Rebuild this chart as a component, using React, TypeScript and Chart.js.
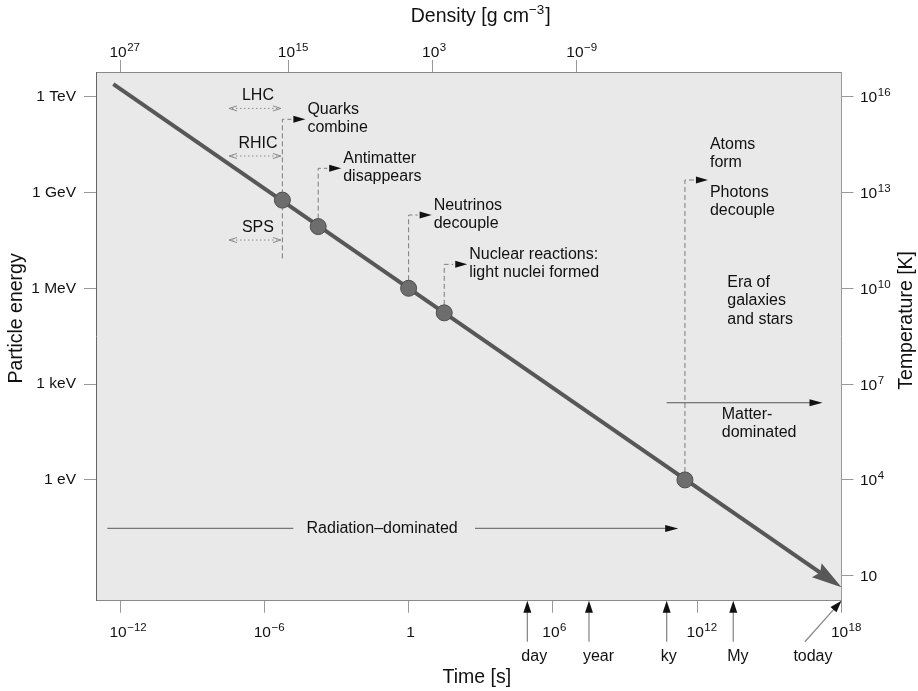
import React, { useEffect, useRef } from 'react';
import { Chart, registerables } from 'chart.js';

Chart.register(...registerables);

const FONT = '"Liberation Sans", Arial, Helvetica, sans-serif';

// ---- axis ranges ----
const timeMin = 1e-13;
const timeMax = 1e18;
const energyMin = 10 ** -3.78; // eV
const energyMax = 10 ** 12.77; // eV
const kelvinPerEV = 1e4;

// ---- tick values / labels ----
const timeTicks = [1e-12, 1e-6, 1, 1e6, 1e12, 1e18];
const timeTickExponents = [-12, -6, 0, 6, 12, 18];
const densityTickTimes = [1e-12, 1e-5, 10, 1e7];
const densityTickExponents = [27, 15, 3, -9];
const energyTicks = [1e12, 1e9, 1e6, 1e3, 1];
const energyTickLabels = ['1 TeV', '1 GeV', '1 MeV', '1 keV', '1 eV'];
const temperatureTicks = [1e16, 1e13, 1e10, 1e7, 1e4, 10];
const temperatureTickExponents = [16, 13, 10, 7, 4, 1];

// ---- cooling line (energy vs time) ----
const coolingTimes = [10 ** -12.28, 1e18];
const coolingEnergies = [10 ** 12.39, 10 ** -3.36];

// ---- events on the line ----
const eventLabels = [
  ['Quarks', 'combine'],
  ['Antimatter', 'disappears'],
  ['Neutrinos', 'decouple'],
  ['Nuclear reactions:', 'light nuclei formed'],
  ['Photons', 'decouple'],
];
const eventTimes = [10 ** -5.25, 10 ** -3.76, 1, 10 ** 1.48, 10 ** 11.49];
const eventEnergies = [10 ** 8.76, 10 ** 7.93, 1e6, 10 ** 5.23, 1];
const eventConnectorTops = [10 ** 11.29, 10 ** 9.755, 10 ** 8.293, 10 ** 6.749, 10 ** 9.389];
const eventConnectorBottoms = [10 ** 6.937, 10 ** 7.93, 1e6, 10 ** 5.23, 1];
const atomsLabel = ['Atoms', 'form'];

// ---- accelerators ----
const acceleratorNames = ['LHC', 'RHIC', 'SPS'];
const acceleratorEnergies = [10 ** 11.63, 10 ** 10.14, 10 ** 7.51];
const acceleratorSpan = [10 ** -7.47, 10 ** -5.31];

// ---- eras ----
const radiationLabel = 'Radiation–dominated';
const radiationSpan = [10 ** -12.53, 10 ** 11.21];
const radiationGap = [10 ** -4.796, 10 ** 2.759];
const radiationEnergy = 10 ** -1.516;
const matterLabel = ['Matter-', 'dominated'];
const matterSpan = [10 ** 10.73, 10 ** 17.21];
const matterEnergy = 10 ** 2.416;
const matterTextTime = 10 ** 13.02;
const galaxiesLabel = ['Era of', 'galaxies', 'and stars'];
const galaxiesTime = 10 ** 13.25;
const galaxiesEnergy = 10 ** 6.173;

// ---- epochs below the time axis ----
const epochLabels = ['day', 'year', 'ky', 'My'];
const epochTimes = [86400, 3.156e7, 10 ** 10.73, 3.156e13];
const todayLabel = 'today';
const todayFromTime = 10 ** 16.48;
const todayTime = 1e18;

function arrowHead(
  ctx: CanvasRenderingContext2D,
  tipX: number,
  tipY: number,
  ux: number,
  uy: number,
  len: number,
  half: number,
  color: string,
  notch = 0
) {
  const nx = -uy;
  const ny = ux;
  const bx = tipX - ux * len;
  const by = tipY - uy * len;
  ctx.beginPath();
  ctx.moveTo(tipX, tipY);
  ctx.lineTo(bx + nx * half, by + ny * half);
  ctx.lineTo(tipX - ux * (len - notch), tipY - uy * (len - notch));
  ctx.lineTo(bx - nx * half, by - ny * half);
  ctx.closePath();
  ctx.fillStyle = color;
  ctx.fill();
}

const MAIN_TICK = `15.5px ${FONT}`;
const SUP_TICK = `11.5px ${FONT}`;

// draws "10^exp" (or "1"/"10") with the base "10" left edge at x
function drawPower(ctx: CanvasRenderingContext2D, exp: number, x: number, baseline: number, mode: 'center' | 'left') {
  ctx.textAlign = 'left';
  ctx.textBaseline = 'alphabetic';
  ctx.font = MAIN_TICK;
  if (exp === 0) {
    const w = ctx.measureText('1').width;
    ctx.fillText('1', mode === 'center' ? x - w / 2 + 2 : x, baseline);
    return;
  }
  const wBase = ctx.measureText('10').width;
  const left = mode === 'center' ? x - wBase / 2 - 2 : x;
  ctx.fillText('10', left, baseline);
  if (exp === 1) return;
  ctx.font = SUP_TICK;
  const s = exp < 0 ? '−' + String(-exp) : String(exp);
  ctx.fillText(s, left + wBase + 0.5, baseline - 6);
}

function coolingGeometry(chart: any) {
  const xs = chart.scales.x;
  const ys = chart.scales.y;
  const sx = xs.getPixelForValue(coolingTimes[0]);
  const sy = ys.getPixelForValue(coolingEnergies[0]);
  const px = xs.getPixelForValue(coolingTimes[1]);
  const py = ys.getPixelForValue(coolingEnergies[1]);
  const d = Math.hypot(px - sx, py - sy);
  return { px, py, ux: (px - sx) / d, uy: (py - sy) / d };
}

const overlay = {
  id: 'overlay',
  beforeDraw(chart: any) {
    const { ctx, chartArea: a } = chart;
    ctx.save();
    ctx.fillStyle = '#e9e9e9';
    ctx.fillRect(a.left, a.top, a.right - a.left, a.bottom - a.top);
    ctx.restore();
  },
  beforeDatasetsDraw(chart: any) {
    const { ctx } = chart;
    const xs = chart.scales.x;
    const ys = chart.scales.y;
    const X = (t: number) => xs.getPixelForValue(t);
    const Y = (e: number) => ys.getPixelForValue(e);
    ctx.save();
    // event connectors
    for (let i = 0; i < eventTimes.length; i++) {
      const x = X(eventTimes[i]);
      const yTop = Y(eventConnectorTops[i]);
      const yBot = Y(eventConnectorBottoms[i]);
      ctx.setLineDash([5, 3]);
      ctx.strokeStyle = '#7c7c7c';
      ctx.lineWidth = 1;
      ctx.beginPath();
      ctx.moveTo(x, yBot);
      ctx.lineTo(x, yTop);
      ctx.lineTo(x + 9, yTop);
      ctx.stroke();
      ctx.setLineDash([]);
      arrowHead(ctx, x + 23, yTop, 1, 0, 12, 3.5, '#111');
    }
    // accelerators
    const ax1 = X(acceleratorSpan[0]);
    const ax2 = X(acceleratorSpan[1]);
    for (let i = 0; i < acceleratorNames.length; i++) {
      const y = Y(acceleratorEnergies[i]);
      ctx.strokeStyle = '#8a8a8a';
      ctx.lineWidth = 1;
      ctx.setLineDash([1.5, 2.5]);
      ctx.beginPath();
      ctx.moveTo(ax1 + 3, y);
      ctx.lineTo(ax2 - 3, y);
      ctx.stroke();
      ctx.setLineDash([]);
      ctx.beginPath();
      ctx.moveTo(ax1 + 8, y - 2.5);
      ctx.lineTo(ax1, y);
      ctx.lineTo(ax1 + 8, y + 2.5);
      ctx.moveTo(ax2 - 8, y - 2.5);
      ctx.lineTo(ax2, y);
      ctx.lineTo(ax2 - 8, y + 2.5);
      ctx.stroke();
    }
    // radiation-dominated
    {
      const y = Y(radiationEnergy);
      ctx.strokeStyle = '#777';
      ctx.lineWidth = 1.2;
      ctx.beginPath();
      ctx.moveTo(X(radiationSpan[0]), y);
      ctx.lineTo(X(radiationGap[0]), y);
      ctx.moveTo(X(radiationGap[1]), y);
      ctx.lineTo(X(radiationSpan[1]) - 8, y);
      ctx.stroke();
      arrowHead(ctx, X(radiationSpan[1]), y, 1, 0, 13, 3.5, '#111');
    }
    // matter-dominated
    {
      const y = Y(matterEnergy);
      ctx.strokeStyle = '#555';
      ctx.lineWidth = 1.2;
      ctx.beginPath();
      ctx.moveTo(X(matterSpan[0]), y);
      ctx.lineTo(X(matterSpan[1]) - 8, y);
      ctx.stroke();
      arrowHead(ctx, X(matterSpan[1]), y, 1, 0, 13, 3.5, '#111');
    }
    ctx.restore();
  },
  beforeDatasetDraw(chart: any, args: any) {
    if (args.index !== 1) return;
    const { ctx } = chart;
    const g = coolingGeometry(chart);
    const nx = -g.uy;
    const ny = g.ux;
    const bx = g.px - g.ux * 25;
    const by = g.py - g.uy * 25;
    const R = 3000;
    ctx.save();
    ctx.beginPath();
    ctx.moveTo(bx + nx * R, by + ny * R);
    ctx.lineTo(bx + nx * R - g.ux * R, by + ny * R - g.uy * R);
    ctx.lineTo(bx - nx * R - g.ux * R, by - ny * R - g.uy * R);
    ctx.lineTo(bx - nx * R, by - ny * R);
    ctx.closePath();
    ctx.clip();
  },
  afterDatasetDraw(chart: any, args: any) {
    if (args.index !== 1) return;
    const { ctx } = chart;
    ctx.restore();
    const g = coolingGeometry(chart);
    ctx.save();
    arrowHead(ctx, g.px, g.py, g.ux, g.uy, 30, 8.5, '#575757', 4);
    ctx.restore();
  },
  afterDraw(chart: any) {
    const { ctx, chartArea: a } = chart;
    const xs = chart.scales.x;
    const ys = chart.scales.y;
    const X = (t: number) => xs.getPixelForValue(t);
    const Y = (e: number) => ys.getPixelForValue(e);
    ctx.save();
    ctx.fillStyle = '#111';

    // power-of-ten tick labels on the time, density and temperature axes
    xs.ticks.forEach((tk: any, i: number) => {
      drawPower(ctx, timeTickExponents[i], xs.getPixelForValue(tk.value), a.bottom + 36, 'center');
    });
    const x2 = chart.scales.x2;
    x2.ticks.forEach((tk: any, i: number) => {
      drawPower(ctx, densityTickExponents[i], x2.getPixelForValue(tk.value), a.top - 15.3, 'center');
    });
    const y1 = chart.scales.y1;
    y1.ticks.forEach((tk: any, i: number) => {
      drawPower(ctx, temperatureTickExponents[i], a.right + 18.5, y1.getPixelForValue(tk.value) + 5.5, 'left');
    });

    ctx.textBaseline = 'middle';
    ctx.textAlign = 'left';
    ctx.font = `16px ${FONT}`;
    // event labels
    for (let i = 0; i < eventTimes.length; i++) {
      const x = X(eventTimes[i]) + 25;
      const yTop = Y(eventConnectorTops[i]);
      const lines = eventLabels[i];
      if (i === eventTimes.length - 1) {
        ctx.fillText(atomsLabel[0], x, yTop - 35);
        ctx.fillText(atomsLabel[1], x, yTop - 17.3);
        ctx.fillText(lines[0], x, yTop + 12.7);
        ctx.fillText(lines[1], x, yTop + 30.5);
      } else {
        ctx.fillText(lines[0], x, yTop - 9.5);
        ctx.fillText(lines[1], x, yTop + 8.3);
      }
    }
    // accelerator labels
    ctx.textAlign = 'center';
    const acx = (X(acceleratorSpan[0]) + X(acceleratorSpan[1])) / 2 + 3;
    for (let i = 0; i < acceleratorNames.length; i++) {
      ctx.fillText(acceleratorNames[i], acx, Y(acceleratorEnergies[i]) - 12.5);
    }
    // radiation label
    ctx.fillText(radiationLabel, (X(radiationGap[0]) + X(radiationGap[1])) / 2 - 2, Y(radiationEnergy));
    // matter label
    ctx.textAlign = 'left';
    {
      const y = Y(matterEnergy);
      ctx.fillText(matterLabel[0], X(matterTextTime), y + 12.3);
      ctx.fillText(matterLabel[1], X(matterTextTime), y + 30);
    }
    // galaxies
    {
      const y0 = Y(galaxiesEnergy);
      galaxiesLabel.forEach((s, k) => ctx.fillText(s, X(galaxiesTime), y0 + k * 18.3));
    }
    // epoch arrows below the time axis
    const yAxis = a.bottom;
    const yLow = a.bottom + 41;
    ctx.strokeStyle = '#8a8a8a';
    ctx.lineWidth = 1.3;
    for (let i = 0; i < epochTimes.length; i++) {
      const x = X(epochTimes[i]);
      ctx.beginPath();
      ctx.moveTo(x, yLow);
      ctx.lineTo(x, yAxis + 10);
      ctx.stroke();
      arrowHead(ctx, x, yAxis, 0, -1, 12, 4, '#111');
      ctx.fillStyle = '#111';
      ctx.fillText(epochLabels[i], x - 6, a.bottom + 55.5);
    }
    {
      const x0 = X(todayFromTime);
      const x1 = X(todayTime);
      const dx = x1 - x0;
      const dy = yAxis - yLow;
      const d = Math.hypot(dx, dy);
      const ux = dx / d;
      const uy = dy / d;
      ctx.beginPath();
      ctx.moveTo(x0, yLow);
      ctx.lineTo(x1 - ux * 10, yAxis - uy * 10);
      ctx.stroke();
      arrowHead(ctx, x1, yAxis, ux, uy, 12, 4, '#111');
      ctx.fillStyle = '#111';
      ctx.textAlign = 'center';
      ctx.fillText(todayLabel, x0 + 8, a.bottom + 55.5);
    }
    // axis titles
    ctx.font = `19.5px ${FONT}`;
    ctx.textAlign = 'center';
    const cx = (a.left + a.right) / 2;
    const cy = (a.top + a.bottom) / 2;
    ctx.fillText('Time [s]', cx + 8, 677.5);
    ctx.save();
    ctx.translate(16.5, cy - 18);
    ctx.rotate(-Math.PI / 2);
    ctx.fillText('Particle energy', 0, 0);
    ctx.restore();
    ctx.save();
    ctx.translate(907, cy - 16);
    ctx.rotate(-Math.PI / 2);
    ctx.fillText('Temperature [K]', 0, 0);
    ctx.restore();
    // Density title with superscript
    {
      const p1 = 'Density [g cm';
      const sup = '−3';
      const p3 = ']';
      ctx.font = `19.5px ${FONT}`;
      const w1 = ctx.measureText(p1).width;
      const w3 = ctx.measureText(p3).width;
      ctx.font = `13.5px ${FONT}`;
      const w2 = ctx.measureText(sup).width;
      const total = w1 + w2 + w3 + 1;
      let x = cx + 12 - total / 2;
      const y = 16.5;
      ctx.textAlign = 'left';
      ctx.font = `19.5px ${FONT}`;
      ctx.fillText(p1, x, y);
      x += w1;
      ctx.font = `13.5px ${FONT}`;
      ctx.fillText(sup, x, y - 6.5);
      x += w2 + 1;
      ctx.font = `19.5px ${FONT}`;
      ctx.fillText(p3, x, y);
    }
    ctx.restore();
  },
};

const tickFont = { family: FONT, size: 15.5 };
const gridStyle = { drawOnChartArea: false, drawTicks: true, tickLength: 12, color: '#999' };

export default function App() {
  const ref = useRef<HTMLCanvasElement>(null);

  useEffect(() => {
    const canvas = ref.current;
    if (!canvas) return;
    const chart = new Chart(canvas, {
      type: 'line',
      data: {
        datasets: [
          {
            type: 'scatter',
            label: 'Events',
            data: eventTimes.map((t, i) => ({ x: t, y: eventEnergies[i] })),
            pointRadius: 8,
            pointBackgroundColor: '#6d6d6d',
            pointBorderColor: '#4e4e4e',
            pointBorderWidth: 1,
            showLine: false,
          } as any,
          {
            type: 'line',
            label: 'Cooling',
            data: coolingTimes.map((t, i) => ({ x: t, y: coolingEnergies[i] })),
            borderColor: '#575757',
            borderWidth: 4,
            borderCapStyle: 'butt',
            pointRadius: 0,
            fill: false,
            tension: 0,
          } as any,
        ],
      },
      options: {
        responsive: false,
        devicePixelRatio: 1,
        animation: false,
        events: [],
        layout: { padding: 0 },
        plugins: { legend: { display: false }, tooltip: { enabled: false } },
        scales: {
          x: {
            type: 'logarithmic',
            position: 'bottom',
            min: timeMin,
            max: timeMax,
            bounds: 'data',
            afterBuildTicks: (s: any) => {
              s.ticks = timeTicks.map((v) => ({ value: v }));
            },
            afterFit: (s: any) => {
              s.height = 90.3;
            },
            ticks: { display: false, autoSkip: false },
            grid: gridStyle,
            border: { display: true, color: '#8a8a8a', width: 1 },
          },
          x2: {
            type: 'logarithmic',
            position: 'top',
            min: timeMin,
            max: timeMax,
            bounds: 'data',
            afterBuildTicks: (s: any) => {
              s.ticks = densityTickTimes.map((v) => ({ value: v }));
            },
            afterFit: (s: any) => {
              s.height = 72;
            },
            ticks: { display: false, autoSkip: false },
            grid: gridStyle,
            border: { display: true, color: '#8a8a8a', width: 1 },
          },
          y: {
            type: 'logarithmic',
            position: 'left',
            min: energyMin,
            max: energyMax,
            bounds: 'data',
            afterBuildTicks: (s: any) => {
              s.ticks = energyTicks.map((v) => ({ value: v }));
            },
            afterFit: (s: any) => {
              s.width = 96;
            },
            ticks: {
              autoSkip: false,
              padding: 8,
              color: '#111',
              font: tickFont,
              callback: (_v: any, i: number) => energyTickLabels[i],
            },
            grid: gridStyle,
            border: { display: true, color: '#666', width: 1 },
          },
          y1: {
            type: 'logarithmic',
            position: 'right',
            min: energyMin * kelvinPerEV,
            max: energyMax * kelvinPerEV,
            bounds: 'data',
            afterBuildTicks: (s: any) => {
              s.ticks = temperatureTicks.map((v) => ({ value: v }));
            },
            afterFit: (s: any) => {
              s.width = 76.5;
            },
            ticks: { display: false, autoSkip: false },
            grid: gridStyle,
            border: { display: true, color: '#999', width: 1 },
          },
        },
      } as any,
      plugins: [overlay],
    });
    return () => chart.destroy();
  }, []);

  return (
    <div style={{ position: 'fixed', left: 0, top: 0, width: 918, height: 691, background: '#fff' }}>
      <canvas ref={ref} width={918} height={691} style={{ display: 'block', width: 918, height: 691 }} />
    </div>
  );
}
